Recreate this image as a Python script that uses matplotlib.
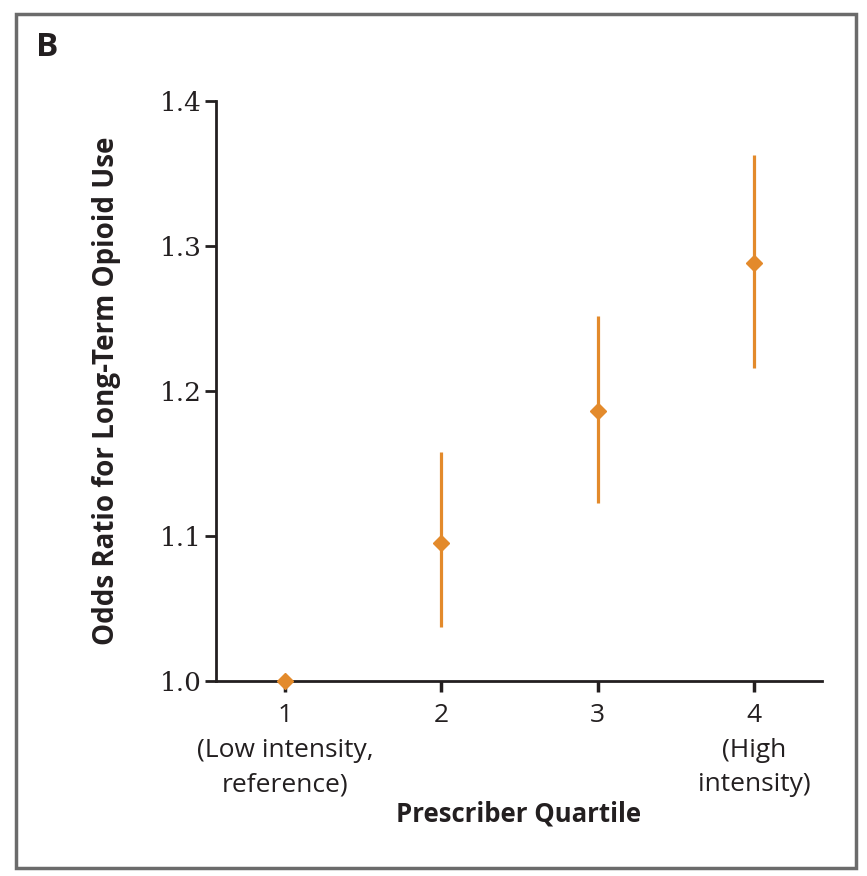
import matplotlib
matplotlib.use('Agg')
import matplotlib.pyplot as plt
from matplotlib.patches import Rectangle

# data
quartiles = [1, 2, 3, 4]
odds_ratio = [1.000, 1.095, 1.186, 1.288]
ci_low = [1.000, 1.037, 1.123, 1.216]
ci_high = [1.000, 1.158, 1.252, 1.363]
tick_labels = ['1\n(Low intensity,\nreference)', '2', '3', '4\n(High\nintensity)']
y_ticks = [1.0, 1.1, 1.2, 1.3, 1.4]

orange = '#E38A2B'
dark = '#231F20'

fig = plt.figure(figsize=(8.67, 8.76), dpi=100)
ax = fig.add_axes([0.2491, 0.2226, 0.699, 0.6621])

# confidence intervals (skip reference quartile)
for q, lo, hi in zip(quartiles, ci_low, ci_high):
    if hi > lo:
        ax.vlines(q, lo, hi, color=orange, lw=2.3, zorder=2)
ax.plot(quartiles, odds_ratio, 'D', color=orange, ms=8, zorder=3, clip_on=False)

ax.set_xlim(0.558, 4.435)
ax.set_ylim(1.0, 1.4)
ax.set_xticks(quartiles)
ax.set_xticklabels(tick_labels, fontsize=19, family='Open Sans', color=dark,
                   linespacing=1.5)
ax.set_yticks(y_ticks)
ax.set_yticklabels(['%.1f' % v for v in y_ticks], fontsize=19,
                   family='DejaVu Serif', color=dark)

for s in ['top', 'right']:
    ax.spines[s].set_visible(False)
for s in ['left', 'bottom']:
    ax.spines[s].set_linewidth(2.0)
    ax.spines[s].set_color(dark)
ax.tick_params(axis='y', length=8, width=2, color=dark, pad=2)
ax.tick_params(axis='x', length=8, width=2.5, color=dark, pad=8)

ax.set_ylabel('Odds Ratio for Long-Term Opioid Use', fontsize=20,
              fontweight='bold', family='Open Sans', color=dark, labelpad=28)
ax.set_xlabel('Prescriber Quartile', fontsize=18.5, fontweight='bold',
              family='Open Sans', color=dark, labelpad=2)

fig.text(36 / 867, 1 - 47 / 876, 'B', fontsize=24, fontweight='bold',
         family='Open Sans', color=dark, va='center', ha='left')

# gray panel frame
fig.patches.append(Rectangle((16 / 867, 1 - 868 / 876), (856 - 16) / 867,
                             (868 - 14) / 876, transform=fig.transFigure,
                             fill=False, ec='#6B6B6B', lw=2.5, zorder=0))

fig.savefig('out.png', dpi=100)
